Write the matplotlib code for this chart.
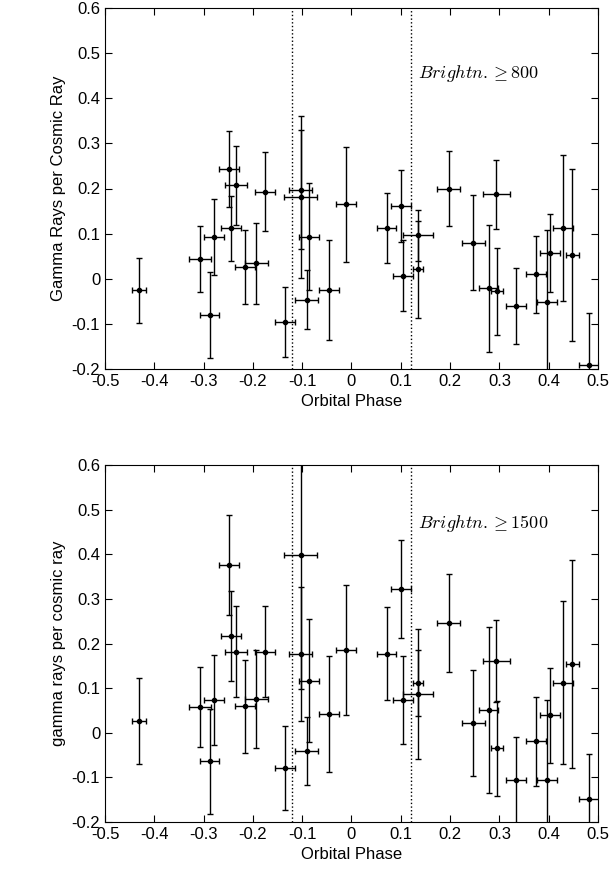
import matplotlib
matplotlib.use('Agg')
import matplotlib.pyplot as plt
import numpy as np

plt.rcParams['font.family'] = ['Liberation Sans', 'DejaVu Sans']
plt.rcParams['mathtext.fontset'] = 'cm'

phase = [-0.431, -0.308, -0.288, -0.279, -0.249, -0.245, -0.234, -0.216, -0.193, -0.176,
         -0.135, -0.103, -0.103, -0.091, -0.086, -0.046, -0.011, 0.071, 0.101, 0.105,
         0.135, 0.135, 0.197, 0.247, 0.278, 0.294, 0.295, 0.334, 0.374, 0.396,
         0.402, 0.429, 0.448, 0.482]
xerr = [0.015, 0.022, 0.02, 0.02, 0.02, 0.02, 0.023, 0.02, 0.023, 0.02,
        0.02, 0.023, 0.033, 0.023, 0.02, 0.02, 0.02, 0.02, 0.02, 0.02,
        0.031, 0.01, 0.023, 0.023, 0.02, 0.028, 0.013, 0.02, 0.02, 0.02,
        0.02, 0.02, 0.013, 0.02]

g800 = [-0.025, 0.044, -0.081, 0.093, 0.243, 0.112, 0.207, 0.026, 0.034, 0.193,
        -0.096, 0.197, 0.181, -0.046, 0.093, -0.025, 0.165, 0.113, 0.162, 0.007,
        0.096, 0.021, 0.199, 0.080, -0.021, 0.187, -0.028, -0.060, 0.010, -0.052,
        0.057, 0.112, 0.053, -0.192]
e800 = [0.072, 0.073, 0.095, 0.084, 0.085, 0.072, 0.087, 0.083, 0.089, 0.088,
        0.078, 0.132, 0.18, 0.066, 0.119, 0.11, 0.128, 0.078, 0.08, 0.078,
        0.057, 0.107, 0.083, 0.106, 0.141, 0.076, 0.096, 0.084, 0.085, 0.16,
        0.087, 0.162, 0.19, 0.115]

g1500 = [0.027, 0.058, -0.064, 0.074, 0.375, 0.216, 0.181, 0.059, 0.076, 0.181,
         -0.079, 0.177, 0.399, -0.041, 0.117, 0.042, 0.185, 0.177, 0.322, 0.074,
         0.087, 0.112, 0.246, 0.021, 0.051, 0.160, -0.035, -0.107, -0.019, -0.107,
         0.039, 0.112, 0.154, -0.148]
e1500 = [0.096, 0.09, 0.118, 0.101, 0.112, 0.101, 0.102, 0.105, 0.11, 0.102,
         0.095, 0.15, 0.3, 0.077, 0.138, 0.13, 0.145, 0.104, 0.109, 0.099,
         0.146, 0.074, 0.11, 0.119, 0.186, 0.092, 0.107, 0.097, 0.1, 0.18,
         0.107, 0.183, 0.234, 0.1]

W, H = 613, 885
fig = plt.figure(figsize=(W / 100, H / 100), dpi=100)
ax1 = fig.add_axes([105 / W, 1 - 369 / H, 493 / W, 361 / H])
ax2 = fig.add_axes([105 / W, 1 - 822 / H, 493 / W, 357 / H])

panels = [(ax1, g800, e800, 'Gamma Rays per Cosmic Ray', r'$Brightn. \geq 800$', 0.455),
          (ax2, g1500, e1500, 'gamma rays per cosmic ray', r'$Brightn. \geq 1500$', 0.47)]
for ax, y, ye, ylab, txt, ty in panels:
    ax.errorbar(phase, y, yerr=ye, xerr=xerr, fmt='o', ms=3, color='black',
                ecolor='black', elinewidth=1, capsize=2, capthick=1)
    ax.axvline(-0.12, color='black', ls=':', lw=1)
    ax.axvline(0.12, color='black', ls=':', lw=1)
    ax.set_xlim(-0.5, 0.5)
    ax.set_ylim(-0.2, 0.6)
    ax.set_xticks(np.arange(-0.5, 0.51, 0.1))
    ax.set_yticks(np.arange(-0.2, 0.61, 0.1))
    ax.set_xticklabels(['-0.5', '-0.4', '-0.3', '-0.2', '-0.1', '0', '0.1', '0.2', '0.3', '0.4', '0.5'])
    ax.set_yticklabels(['-0.2', '-0.1', '0', '0.1', '0.2', '0.3', '0.4', '0.5', '0.6'])
    ax.tick_params(direction='in', top=True, right=True, labelsize=12, length=5)
    ax.set_xlabel('Orbital Phase', fontsize=12)
    ax.set_ylabel(ylab, fontsize=12)
    ax.text(0.135, ty, txt, fontsize=13, va='center')

fig.savefig('out.png', dpi=100)
